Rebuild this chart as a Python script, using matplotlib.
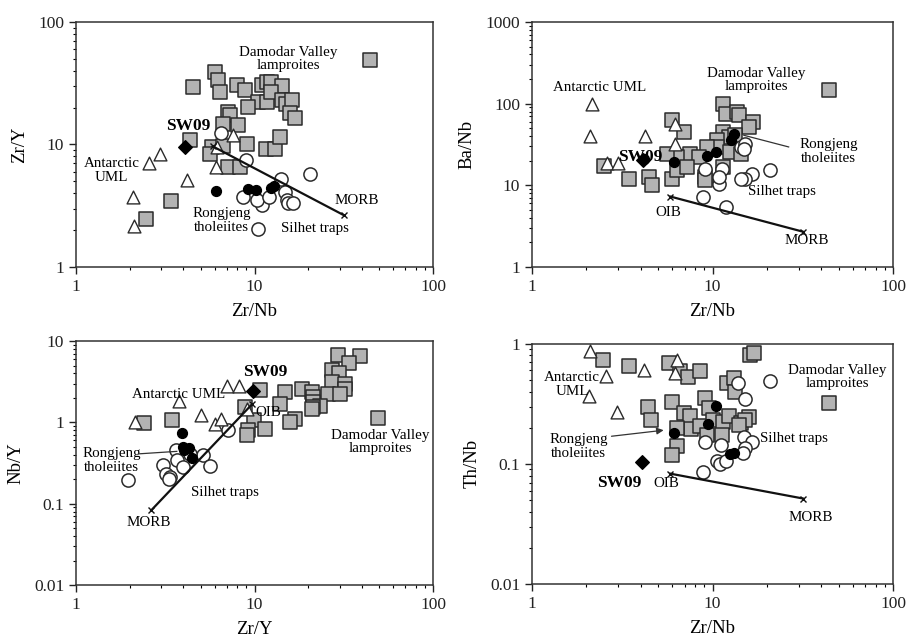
import matplotlib
matplotlib.use("Agg")
import matplotlib.pyplot as plt
from matplotlib.ticker import LogLocator, NullFormatter, FuncFormatter

plt.rcParams['font.family'] = ['Liberation Serif', 'DejaVu Serif']

# reference compositions (OIB, MORB)
ref_zrnb = [5.83, 31.76]
ref_bann = [7.29, 2.7]
ref_zry = [9.66, 2.64]
ref_nby = [1.66, 0.083]
ref_thnb = [0.083, 0.0515]

# ---- panel 1: Zr/Nb vs Zr/Y
p1_dam_x = [44.2, 4.51, 5.97, 6.28, 6.4, 8.03, 8.87, 11.0, 11.7, 12.3, 14.2, 10.5, 11.7, 12.3,
            9.25, 14.2, 15.1, 16.2, 15.8, 16.9, 7.15, 7.3, 6.64, 8.1, 4.33, 5.76, 5.64, 6.64,
            9.1, 11.6, 13.0, 13.9, 7.15, 8.3, 3.41, 2.47]
p1_dam_y = [48.6, 29.5, 39, 33.8, 26.8, 30.4, 27.7, 30.4, 32.4, 32.4, 29.8, 22.2, 22.2, 26.8,
            20.2, 23, 21.6, 23, 17.9, 16.3, 18.4, 17.3, 14.8, 14.3, 10.8, 9.5, 8.4, 9.8,
            10.0, 9.2, 9.2, 11.5, 6.55, 6.55, 3.44, 2.45]
p1_ant_x = [2.96, 2.58, 2.08, 2.11, 4.17, 6.14, 6.1, 7.6]
p1_ant_y = [8.3, 7.0, 3.73, 2.15, 5.1, 9.5, 6.55, 12.0]
p1_ron_x = [6.1, 9.25, 10.2, 12.3, 12.8]
p1_ron_y = [4.15, 4.36, 4.23, 4.45, 4.55]
p1_sil_x = [8.97, 14.0, 20.5, 8.6, 11.0, 10.3, 12.0, 14.9, 15.2, 15.5, 16.5, 10.5, 6.46]
p1_sil_y = [7.43, 5.26, 5.78, 3.73, 3.18, 3.55, 3.73, 4.1, 3.5, 3.3, 3.33, 2.05, 12.3]
p1_sw = [4.1, 9.5]

# ---- panel 2: Zr/Nb vs Ba/Nb
p2_dam_x = [44, 11.5, 11.8, 13.7, 14.0, 16.8, 15.9, 5.97, 6.93, 11.5, 12.3, 13.4, 10.6, 10.6,
            9.3, 7.5, 8.4, 6.35, 5.6, 12.5, 14.3, 2.49, 3.43, 4.43, 4.6, 5.97, 6.35, 7.2,
            9.1, 9.1, 11.5]
p2_dam_y = [145, 100, 75, 79, 72, 59.6, 51.8, 62.5, 45, 45, 39, 41, 35.6, 29.5,
            29.5, 24.4, 22.2, 22.2, 24.4, 25.5, 24.4, 17.3, 12.1, 12.7, 10.2, 12.1, 15.3, 16.8,
            12.7, 11.5, 16.8]
p2_ant_x = [2.15, 2.09, 4.2, 6.2, 6.2, 2.6, 3.0]
p2_ant_y = [100, 39.8, 39.8, 57, 32.4, 18.8, 18.5]
p2_ron_x = [4.15, 6.1, 9.3, 10.4, 12.6, 13.1]
p2_ron_y = [21.2, 19.3, 22.6, 25.5, 35.6, 43]
p2_sil_x = [9.1, 11.3, 10.8, 10.8, 14.3, 15.2, 14.9, 16.6, 15.2, 14.3, 20.7, 8.85, 11.9]
p2_sil_y = [16, 16, 10.5, 12.7, 29.5, 32.4, 28, 13.9, 12.1, 12.1, 15.3, 7.2, 5.43]
p2_sw = [4.1, 20.5]

# ---- panel 3: Zr/Y vs Nb/Y
p3_dam_x = [29.3, 38.8, 34, 27, 29.6, 27, 32, 14.9, 18.4, 20.9, 21.4, 25.9, 32, 30,
            21.4, 23.4, 21.4, 20.9, 13.9, 16.9, 15.8, 49.2, 10.7, 8.87, 9.9, 11.5, 9.25,
            9.1, 2.39, 3.44]
p3_dam_y = [6.67, 6.5, 5.4, 4.37, 4.0, 3.14, 3.0, 2.37, 2.6, 2.37, 2.06, 2.25, 2.6, 2.25,
            1.78, 1.58, 1.56, 1.44, 1.70, 1.11, 1.01, 1.12, 2.48, 1.55, 1.08, 0.84, 0.80,
            0.70, 0.98, 1.06]
p3_ant_x = [2.14, 3.78, 7.0, 8.2, 5.02, 6.0, 6.5, 9.1]
p3_ant_y = [1.02, 1.82, 2.8, 2.8, 1.22, 0.95, 1.09, 1.47]
p3_ron_x = [3.92, 3.97, 4.27, 4.05, 4.46]
p3_ron_y = [0.73, 0.50, 0.48, 0.46, 0.36]
p3_sil_x = [1.96, 3.09, 3.62, 3.67, 3.19, 3.37, 3.3, 3.99, 5.17, 5.64, 7.15, 4.36]
p3_sil_y = [0.195, 0.30, 0.46, 0.34, 0.23, 0.21, 0.20, 0.28, 0.395, 0.29, 0.80, 0.41]
p3_sw = [9.75, 2.41]

# ---- panel 4: Zr/Nb vs Th/Nb
p4_dam_x = [2.47, 3.46, 5.71, 6.63, 7.3, 8.55, 16.2, 16.9, 12.0, 13.1, 13.4, 44.4, 4.38, 4.59,
            5.97, 6.93, 9.1, 9.5, 7.5, 7.6, 8.55, 10.1, 11.5, 12.4, 14.3, 15.9, 15.2, 14,
            11.3, 9.3, 6.35, 6.35, 5.97]
p4_dam_y = [0.735, 0.656, 0.69, 0.59, 0.53, 0.59, 0.81, 0.84, 0.47, 0.52, 0.40, 0.32, 0.30, 0.233,
            0.325, 0.264, 0.352, 0.29, 0.25, 0.195, 0.205, 0.233, 0.225, 0.25, 0.218, 0.245, 0.233, 0.21,
            0.175, 0.175, 0.198, 0.14, 0.119]
p4_ant_x = [2.1, 2.57, 4.16, 6.35, 6.2, 2.06, 2.96]
p4_ant_y = [0.88, 0.54, 0.61, 0.73, 0.57, 0.37, 0.27]
p4_ron_x = [6.15, 10.4, 9.45, 13.1, 12.5]
p4_ron_y = [0.18, 0.304, 0.216, 0.124, 0.12]
p4_sil_x = [13.8, 15.2, 20.7, 14.9, 16.6, 15.2, 14.8, 9.1, 11.2, 10.6, 11.0, 11.8, 8.83]
p4_sil_y = [0.47, 0.35, 0.49, 0.169, 0.153, 0.135, 0.123, 0.153, 0.144, 0.105, 0.10, 0.105, 0.085]
p4_sw = [4.07, 0.103]

GRAY = '#b3b3b3'
EDGE = '#2b2b2b'
FS = 10.8


def log_fmt(v, pos):
    if v >= 1:
        return '%d' % round(v)
    return ('%g' % v)


def setup(ax, ylim, xlabel, ylabel):
    ax.set_xscale('log')
    ax.set_yscale('log')
    ax.set_xlim(1, 100)
    ax.set_ylim(*ylim)
    for sp in ax.spines.values():
        sp.set_color('#333333')
        sp.set_linewidth(1.1)
    ax.xaxis.set_major_locator(LogLocator(base=10, numticks=10))
    ax.yaxis.set_major_locator(LogLocator(base=10, numticks=10))
    ax.xaxis.set_minor_locator(LogLocator(base=10, subs=range(2, 10), numticks=20))
    ax.yaxis.set_minor_locator(LogLocator(base=10, subs=range(2, 10), numticks=20))
    ax.xaxis.set_minor_formatter(NullFormatter())
    ax.yaxis.set_minor_formatter(NullFormatter())
    ax.xaxis.set_major_formatter(FuncFormatter(log_fmt))
    ax.yaxis.set_major_formatter(FuncFormatter(log_fmt))
    ax.tick_params(which='major', direction='out', length=5, width=1, labelsize=12.5,
                   colors='#222222', top=False, right=False)
    ax.tick_params(which='minor', direction='out', length=2.5, width=0.8,
                   top=False, right=False)
    ax.set_xlabel(xlabel, fontsize=13.5, labelpad=6)
    ax.set_ylabel(ylabel, fontsize=13.5, labelpad=7)


def draw(ax, dam, ant, ron, sil, sw, rx, ry):
    ax.plot(rx, ry, color='#111111', lw=1.6, marker='x', ms=5, mew=1, zorder=4)
    ax.scatter(dam[0], dam[1], marker='s', s=95, facecolor=GRAY, edgecolor=EDGE,
               linewidth=1.1, zorder=3)
    ax.scatter(sil[0], sil[1], marker='o', s=90, facecolor='white', edgecolor=EDGE,
               linewidth=1.1, zorder=3)
    ax.scatter(ant[0], ant[1], marker='^', s=85, facecolor='white', edgecolor=EDGE,
               linewidth=1.0, zorder=3)
    ax.scatter(ron[0], ron[1], marker='o', s=50, facecolor='black', edgecolor='black',
               zorder=5)
    ax.scatter([sw[0]], [sw[1]], marker='D', s=48, facecolor='black', edgecolor='black',
               zorder=5)


fig = plt.figure(figsize=(9.07, 6.37), dpi=100)
ax1 = fig.add_axes([0.0838, 0.5809, 0.3936, 0.3846])
ax2 = fig.add_axes([0.5866, 0.5809, 0.398, 0.3846])
ax3 = fig.add_axes([0.0838, 0.0816, 0.3936, 0.383])
ax4 = fig.add_axes([0.5866, 0.0832, 0.398, 0.377])

# panel 1
setup(ax1, (1, 100), 'Zr/Nb', 'Zr/Y')
draw(ax1, (p1_dam_x, p1_dam_y), (p1_ant_x, p1_ant_y), (p1_ron_x, p1_ron_y),
     (p1_sil_x, p1_sil_y), p1_sw, ref_zrnb, ref_zry)
ax1.text(15.5, 50, 'Damodar Valley\nlamproites', ha='center', va='center', fontsize=FS,
         linespacing=1.0, zorder=6)
ax1.text(4.27, 14.1, 'SW09', ha='center', va='center', fontsize=12.5, fontweight='bold', zorder=6)
ax1.text(1.58, 6.15, 'Antarctic\nUML', ha='center', va='center', fontsize=FS, linespacing=1.1)
ax1.text(6.56, 2.4, 'Rongjeng\ntholeiites', ha='center', va='center', fontsize=FS, linespacing=1.1)
ax1.text(21.9, 2.08, 'Silhet traps', ha='center', va='center', fontsize=FS)
ax1.text(37.5, 3.5, 'MORB', ha='center', va='center', fontsize=FS)

# panel 2
setup(ax2, (1, 1000), 'Zr/Nb', 'Ba/Nb')
draw(ax2, (p2_dam_x, p2_dam_y), (p2_ant_x, p2_ant_y), (p2_ron_x, p2_ron_y),
     (p2_sil_x, p2_sil_y), p2_sw, ref_zrnb, ref_bann)
ax2.text(2.37, 157, 'Antarctic UML', ha='center', va='center', fontsize=FS)
ax2.text(17.5, 193, 'Damodar Valley\nlamproites', ha='center', va='center', fontsize=FS,
         linespacing=1.0)
ax2.text(44, 25.6, 'Rongjeng\ntholeiites', ha='center', va='center', fontsize=FS, linespacing=1.1)
ax2.plot([26.4, 14.9], [29.5, 41], color='#333333', lw=0.9, zorder=6)
ax2.text(24.3, 8.5, 'Silhet traps', ha='center', va='center', fontsize=FS, zorder=6)
ax2.text(5.72, 4.7, 'OIB', ha='center', va='center', fontsize=FS)
ax2.text(33.4, 2.08, 'MORB', ha='center', va='center', fontsize=FS)
ax2.text(3.98, 22.2, 'SW09', ha='center', va='center', fontsize=12.5, fontweight='bold', zorder=6)

# panel 3
setup(ax3, (0.01, 10), 'Zr/Y', 'Nb/Y')
draw(ax3, (p3_dam_x, p3_dam_y), (p3_ant_x, p3_ant_y), (p3_ron_x, p3_ron_y),
     (p3_sil_x, p3_sil_y), p3_sw, ref_zry, ref_nby)
ax3.text(11.5, 4.17, 'SW09', ha='center', va='center', fontsize=12.5, fontweight='bold', zorder=6)
ax3.text(3.75, 2.21, 'Antarctic UML', ha='center', va='center', fontsize=FS, zorder=6)
ax3.text(12.0, 1.34, 'OIB', ha='center', va='center', fontsize=FS, zorder=6)
ax3.text(50.7, 0.575, 'Damodar Valley\nlamproites', ha='center', va='center', fontsize=FS,
         linespacing=1.0)
ax3.text(1.58, 0.336, 'Rongjeng\ntholeiites', ha='center', va='center', fontsize=FS,
         linespacing=1.1, zorder=6)
ax3.plot([2.24, 3.67], [0.41, 0.44], color='#333333', lw=0.9, zorder=6)
ax3.text(6.85, 0.136, 'Silhet traps', ha='center', va='center', fontsize=FS)
ax3.text(2.57, 0.059, 'MORB', ha='center', va='center', fontsize=FS)

# panel 4
setup(ax4, (0.01, 1), 'Zr/Nb', 'Th/Nb')
draw(ax4, (p4_dam_x, p4_dam_y), (p4_ant_x, p4_ant_y), (p4_ron_x, p4_ron_y),
     (p4_sil_x, p4_sil_y), p4_sw, ref_zrnb, ref_thnb)
ax4.text(1.67, 0.455, 'Antarctic\nUML', ha='center', va='center', fontsize=FS, linespacing=1.1)
ax4.text(49, 0.53, 'Damodar Valley\nlamproites', ha='center', va='center', fontsize=FS,
         linespacing=1.0)
ax4.text(28.2, 0.164, 'Silhet traps', ha='center', va='center', fontsize=FS)
ax4.text(1.81, 0.139, 'Rongjeng\ntholeiites', ha='center', va='center', fontsize=FS,
         linespacing=1.1)
ax4.annotate('', xy=(5.55, 0.192), xytext=(2.66, 0.169),
             arrowprops=dict(arrowstyle='-|>', color='#333333', lw=0.9, mutation_scale=10),
             zorder=6)
ax4.text(3.06, 0.07, 'SW09', ha='center', va='center', fontsize=12.5, fontweight='bold')
ax4.text(5.55, 0.069, 'OIB', ha='center', va='center', fontsize=FS)
ax4.text(35.1, 0.036, 'MORB', ha='center', va='center', fontsize=FS)

fig.savefig('out.png', dpi=100)
